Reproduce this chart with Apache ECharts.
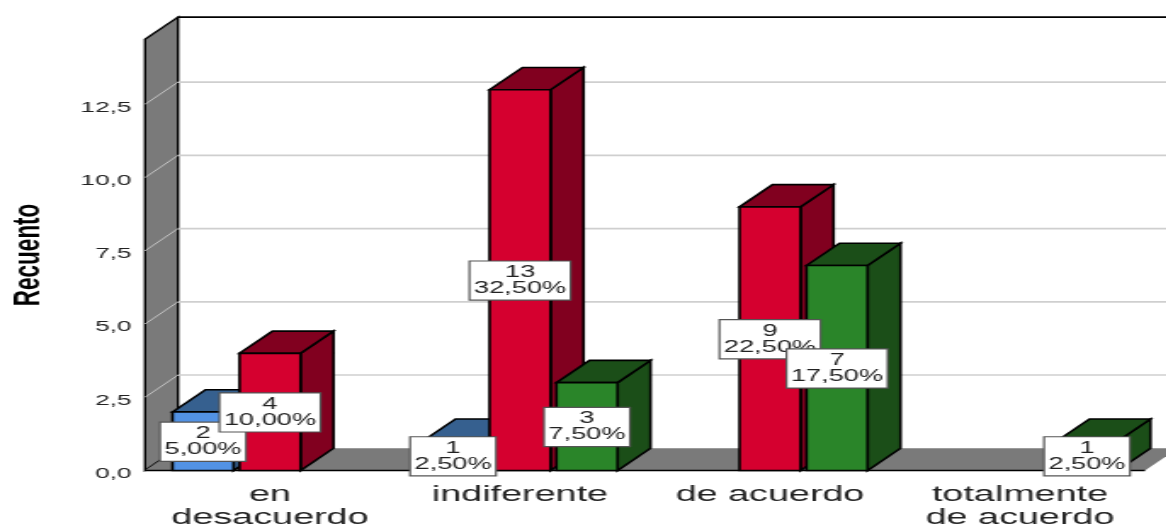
<!DOCTYPE html>
<html><head><meta charset="utf-8">
<style>
html,body{margin:0;padding:0;width:1166px;height:525px;overflow:hidden;background:#fff}
#c{width:686px;height:525px;transform-origin:0 0;transform:scaleX(1.7);filter:blur(0.35px)}
</style>
<script src="https://cdn.jsdelivr.net/npm/echarts@6/dist/echarts.min.js"></script>
</head><body><div id="c"></div>
<script>
const categories = ['en\ndesacuerdo','indiferente','de acuerdo','totalmente\nde acuerdo'];
const yTicks = [0,2.5,5,7.5,10,12.5];
const blueCounts = [2,1,0,0];
const blueShares = ['5,00%','2,50%','',''];
const redCounts = [4,13,9,0];
const redShares = ['10,00%','32,50%','22,50%',''];
const greenCounts = [0,3,7,1];
const greenShares = ['','7,50%','17,50%','2,50%'];
const yMax = 14.72;
const S = 1.7, DX = 33/S, DY = -22.2;

const chart = echarts.init(document.getElementById('c'), null, {renderer:'canvas'});

function poly(points, fill, stroke, lw){
  return {type:'polygon', shape:{points}, style:{fill, stroke:stroke||null, lineWidth:lw===undefined?1.6:lw}};
}
function line(x1,y1,x2,y2,stroke,lw){
  return {type:'line', shape:{x1,y1,x2,y2}, style:{stroke, lineWidth:lw}};
}
function wallsItem(params, api){
  const o = api.coord([0,0]), t = api.coord([0,yMax]);
  const cs = params.coordSys;
  const xl = cs.x, xr = cs.x+cs.width, y0 = o[1], yt = t[1];
  return {type:'group', children:[
    poly([[xl+DX,yt+DY],[xr+DX+40,yt+DY],[xr+DX+40,y0+DY],[xl+DX,y0+DY]],'#ffffff',null,0),
    line(xl+DX,yt+DY,xr+DX+40,yt+DY,'#000',1.6),
    poly([[xl,yt],[xl+DX,yt+DY],[xl+DX,y0+DY],[xl,y0]],'#7a7a7a','#000',1.4),
    poly([[xl,y0],[xl+DX,y0+DY],[xr+DX,y0+DY],[xr,y0]],'#7a7a7a',null,0),
    line(xl,y0,xr,y0,'#000',1.6)
  ]};
}
function gridItem(params, api){
  const v = api.value(1);
  if(v===0) return null;
  const p = api.coord([0,v]), cs = params.coordSys;
  const xl = cs.x, xr = cs.x+cs.width+DX+40;
  return {type:'group', children:[
    line(xl+DX,p[1]+DY,xr,p[1]+DY,'#cfcfcf',1.6),
    line(xl,p[1],xl+DX,p[1]+DY,'#c4c4c4',1)
  ]};
}
function barItem(slot, front, dark){
  return function(params, api){
    const v = api.value(1);
    if(!v) return null;
    const band = api.size([1,0])[0];
    const base = api.coord([api.value(0),0]), top = api.coord([api.value(0),v]);
    const w = band*61/250;
    const cx = base[0]+slot*band*67/250;
    const l = cx-w/2, r = cx+w/2;
    return {type:'group', children:[
      poly([[r,top[1]],[r+DX,top[1]+DY],[r+DX,base[1]+DY],[r,base[1]]],dark,'#000'),
      poly([[l,top[1]],[l+DX,top[1]+DY],[r+DX,top[1]+DY],[r,top[1]]],dark,'#000'),
      poly([[l,top[1]],[r,top[1]],[r,base[1]],[l,base[1]]],front,'#000')
    ]};
  };
}
function labelItem(slot, shares){
  return function(params, api){
    const v = api.value(1);
    if(!v) return null;
    const band = api.size([1,0])[0];
    const idx = api.value(0);
    const p = api.coord([idx,v/2]);
    return {type:'text', x:p[0]+slot*band*67/250, y:p[1]+0.5, style:{
      text:v+'\n'+shares[idx], align:'center', verticalAlign:'middle',
      fontFamily:'Liberation Sans', fontSize:16, lineHeight:16, fill:'#222',
      backgroundColor:'#fff', borderColor:'#555', borderWidth:1.2, padding:[3,2,3,2]
    }};
  };
}
function pairs(a){ return a.map((v,i)=>[i,v]); }
function custom(name,data,render,z){
  return {type:'custom', name, data, renderItem:render, z, silent:true, clip:false, encode:{x:0,y:1}, animation:false};
}
chart.setOption({
  animation:false,
  grid:{left:145/S, width:1000/S, top:39.3, bottom:54.5, containLabel:false, outerBoundsMode:'none'},
  xAxis:{type:'category', data:categories, boundaryGap:true,
    axisLine:{show:false}, axisTick:{show:false}, splitLine:{show:false},
    axisLabel:{interval:0, margin:13, fontFamily:'Liberation Sans', fontSize:22.2, lineHeight:23, color:'#222', hideOverlap:false}},
  yAxis:{type:'value', min:0, max:yMax, interval:2.5, name:'Recuento', nameLocation:'middle', nameGap:57,
    nameTextStyle:{fontFamily:'Liberation Sans', fontSize:22.5, fontWeight:'bold', color:'#000'},
    axisLine:{show:false}, axisTick:{show:false}, splitLine:{show:false},
    axisLabel:{showMaxLabel:false, margin:8, fontFamily:'Liberation Sans', fontSize:15.4, color:'#222',
      verticalAlign:'top', lineHeight:6, formatter:v=>v.toFixed(1).replace('.',',')}},
  series:[
    custom('Paredes',[[0,0]],wallsItem,1),
    custom('Rejilla',pairs(yTicks).map(p=>[0,p[1]]),gridItem,2),
    custom('Azul',pairs(blueCounts),barItem(-1,'#5292e4','#36608f'),3),
    custom('Rojo',pairs(redCounts),barItem(0,'#d5002f','#81001f'),4),
    custom('Verde',pairs(greenCounts),barItem(1,'#2a8529','#1b4e18'),5),
    custom('Azul etiquetas',pairs(blueCounts),labelItem(-1,blueShares),6),
    custom('Rojo etiquetas',pairs(redCounts),labelItem(0,redShares),7),
    custom('Verde etiquetas',pairs(greenCounts),labelItem(1,greenShares),8)
  ]
});
</script></body></html>
